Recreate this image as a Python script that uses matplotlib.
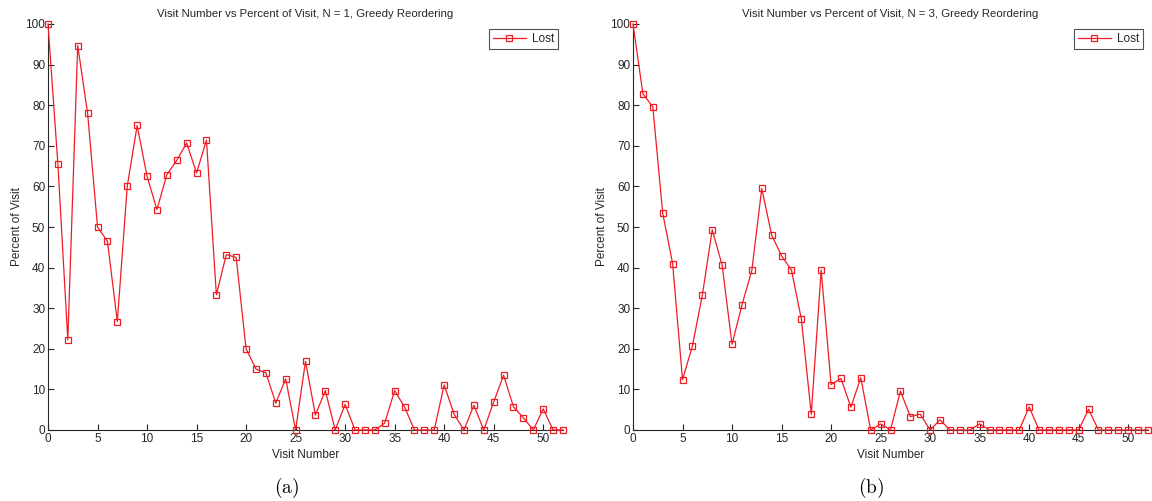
import matplotlib
matplotlib.use("Agg")
import matplotlib.pyplot as plt

visits = list(range(53))
lost_n1 = [100, 65.4, 22.2, 94.7, 78.0, 50.0, 46.5, 26.7, 60.0, 75.0,
           62.5, 54.3, 62.9, 66.4, 70.7, 63.3, 71.4, 33.3, 43.2, 42.5,
           20.0, 15.0, 14.1, 6.6, 12.6, 0, 16.9, 3.7, 9.7, 0,
           6.3, 0, 0, 0, 1.7, 9.7, 5.7, 0, 0, 0,
           11.1, 3.9, 0, 6.1, 0, 6.9, 13.5, 5.7, 3.0, 0,
           5.2, 0, 0]
lost_n3 = [100, 82.8, 79.6, 53.4, 41.0, 12.4, 20.7, 33.2, 49.3, 40.6,
           21.1, 30.8, 39.3, 59.5, 48.0, 42.9, 39.4, 27.3, 3.9, 39.4,
           11.2, 12.7, 5.6, 12.9, 0, 1.5, 0, 9.6, 3.3, 3.9,
           0, 2.5, 0, 0, 0, 1.5, 0, 0, 0, 0,
           5.7, 0, 0, 0, 0, 0, 5.1, 0, 0, 0,
           0, 0, 0]
titles = ["Visit Number vs Percent of Visit, N = 1, Greedy Reordering",
          "Visit Number vs Percent of Visit, N = 3, Greedy Reordering"]
panel_labels = ["(a)", "(b)"]
series = [lost_n1, lost_n3]

plt.rcParams['font.family'] = ['Liberation Sans', 'DejaVu Sans']
plt.rcParams['mathtext.fontset'] = 'cm'

fig = plt.figure(figsize=(11.52, 5.01), dpi=100)
W, H = 1152, 501
lefts = [48, 633]
axw = 515
bottom_px = 430
top_px = 24

red = '#f01c24'
for i in range(2):
    ax = fig.add_axes([lefts[i] / W, (H - bottom_px) / H, axw / W, (bottom_px - top_px) / H])
    ax.plot(visits, series[i], color=red, lw=0.9, marker='s', markersize=5.0,
            markerfacecolor='none', markeredgecolor=red, markeredgewidth=0.9,
            label='Lost', clip_on=False, zorder=3)
    ax.set_xlim(0, 52)
    ax.set_ylim(0, 100)
    ax.set_xticks(range(0, 51, 5))
    ax.set_yticks(range(0, 101, 10))
    for s in ['top', 'right']:
        ax.spines[s].set_visible(False)
    for s in ['left', 'bottom']:
        ax.spines[s].set_color('#262626')
        ax.spines[s].set_linewidth(0.8)
    ax.tick_params(direction='in', length=4, width=0.8, color='#262626',
                   labelsize=8.5, labelcolor='#262626', pad=2)
    ax.set_title(titles[i], fontsize=8.2, color='#262626', pad=5)
    ax.set_xlabel('Visit Number', fontsize=8.5, color='#262626', labelpad=3)
    ax.set_ylabel('Percent of Visit', fontsize=8.5, color='#262626', labelpad=2)
    leg = ax.legend(loc='upper right', fontsize=8.5, frameon=True, fancybox=False,
                    borderaxespad=0.4, handlelength=2.8, handletextpad=0.5,
                    borderpad=0.35)
    leg.get_frame().set_edgecolor('#262626')
    leg.get_frame().set_linewidth(0.8)
    for t in leg.get_texts():
        t.set_color('#262626')
    cx = (lefts[i] + axw / 2 - 19) / W
    fig.text(cx, 1 - 488 / H, r'$\mathrm{' + panel_labels[i] + '}$', ha='center', va='center',
             fontsize=14)

fig.savefig('out.png', dpi=100)
